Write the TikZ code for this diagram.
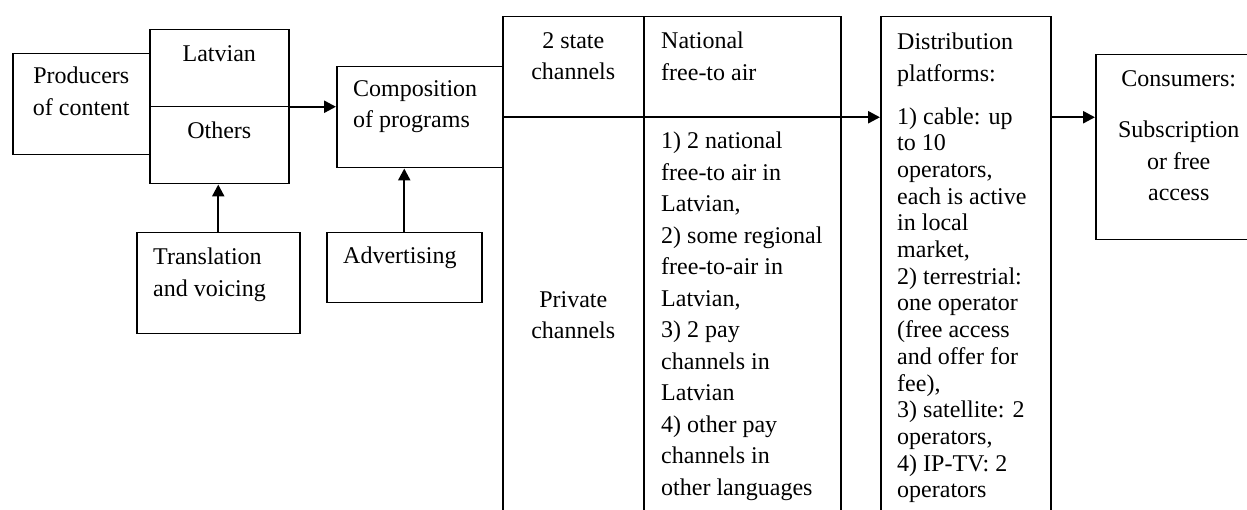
\documentclass[tikz,border=0pt]{standalone}
\usepackage{fontspec}
\setmainfont{Liberation Serif}
\usetikzlibrary{arrows.meta,positioning}

\begin{document}
\begin{tikzpicture}[
    x=1pt, y=-1pt,
    box/.style={rectangle, draw=black, line width=1.5pt, inner sep=0pt, anchor=north west},
    txt/.style={inner sep=0pt, font=\fontsize{24}{31.5}\selectfont},
    ltxt/.style={txt, align=left},
    ctxt/.style={txt, align=center},
    arrow/.style={-{Triangle[length=12pt, width=12pt]}, line width=2.4pt, black}
]
\useasboundingbox (0,0) rectangle (1247,510);
\clip (0,0) rectangle (1247,510);

% Producers
\node[box, minimum width=137pt, minimum height=101pt] (prod) at (12,53) {};
\node[ctxt, below=14pt of prod.north] (prodtxt) {Producers\\of content};

% Languages
\node[box, minimum width=139pt, minimum height=154pt] (lang) at (149,29) {};
\draw[line width=1.5pt] (lang.west) -- (lang.east);
\node[ctxt, below=16pt of lang.north] (latv) {Latvian};
\node[ctxt, below=15pt of lang.center] (others) {Others};

% Composition
\node[box, minimum width=166pt, minimum height=101pt] (comp) at (336,66) {};
\node[ltxt, below right=14pt and 17pt of comp.north west] (comptxt) {Composition\\of programs};

% Inputs
\node[box, minimum width=163pt, minimum height=101pt] (trans) at (136,232) {};
\node[ltxt, below right=16pt and 17pt of trans.north west] (transtxt) {Translation\\and voicing};
\node[box, minimum width=155pt, minimum height=70pt] (adv) at (326,232) {};
\node[ltxt, below right=15pt and 17pt of adv.north west] (advtxt) {Advertising};

% Channels
\node[box, minimum width=141pt, minimum height=100.5pt] (state) at (502,16) {};
\node[box, minimum width=197pt, minimum height=100.5pt] (natl) at (643,16) {};
\node[box, minimum width=141pt, minimum height=396pt] (priv) at (502,116.5) {};
\node[box, minimum width=197pt, minimum height=396pt] (plist) at (643,116.5) {};
\node[ctxt, below=16pt of state.north] (statetxt) {2 state\\channels};
\node[ltxt, below right=16pt and 18pt of natl.north west] (natltxt) {National\\free-to air};
\node[ctxt] (privtxt) at (priv.center) {Private\\channels};
\node[ltxt, below right=15.5pt and 18pt of plist.north west] (plisttxt) {1) 2 national\\free-to air in\\Latvian,\\2) some regional\\free-to-air in\\Latvian,\\3) 2 pay\\channels in\\Latvian\\4) other pay\\channels in\\other languages};

% Distribution
\node[box, minimum width=170pt, minimum height=500pt] (dist) at (880,16) {};
\node[ltxt, font=\fontsize{24}{26.7}\selectfont, below right=17pt and 17pt of dist.north west] (disttxt) {Distribution\\[4.8pt]platforms:\\[16pt]1) cable: up\\to 10\\operators,\\each is active\\in local\\market,\\2) terrestrial:\\one operator\\(free access\\and offer for\\fee),\\3) satellite: 2\\operators,\\4) IP-TV: 2\\operators};

% Consumers
\node[box, minimum width=166pt, minimum height=185pt] (cons) at (1095,54) {};
\node[ctxt, below=16pt of cons.north] (constxt) {Consumers:\\[20pt]Subscription\\or free\\access};

% Connectors
\draw[arrow] (lang.east) -- (lang.east -| comp.west);
\draw[arrow] (trans.north) -- (trans.north |- lang.south);
\draw[arrow] (adv.north) -- (adv.north |- comp.south);
\draw[arrow] (comp.east) -- (comp.east -| dist.west);
\draw[arrow] (comp.east -| dist.east) -- (comp.east -| cons.west);

\end{tikzpicture}
\end{document}
